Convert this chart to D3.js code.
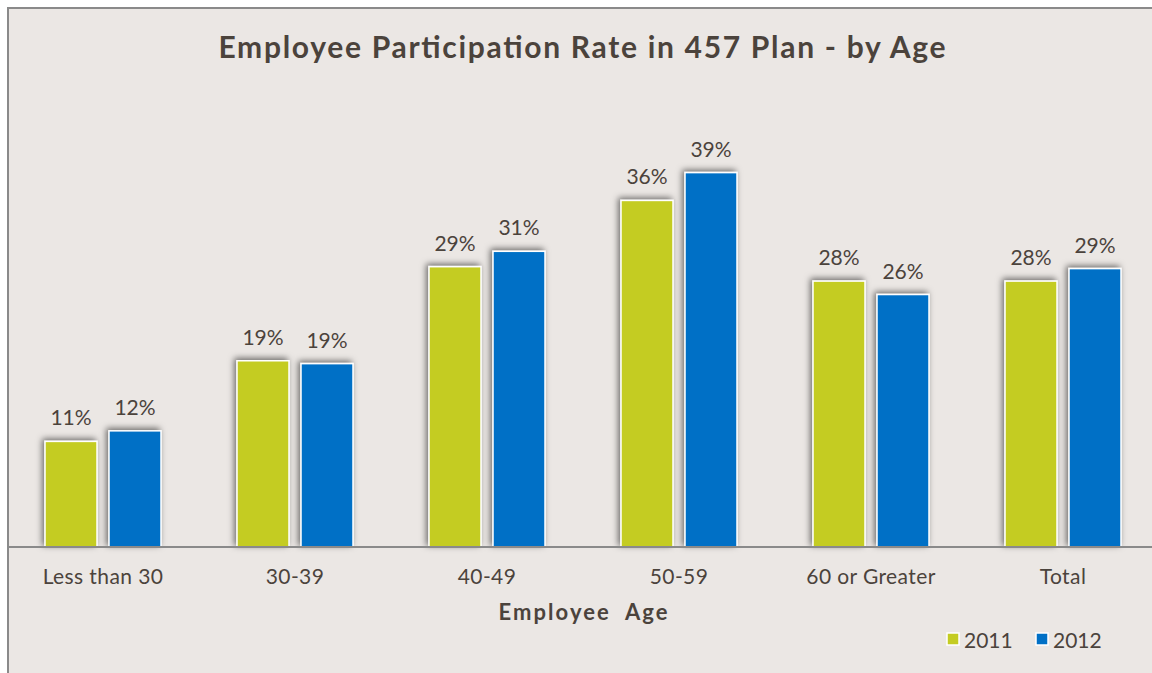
<!DOCTYPE html>
<html><head><meta charset="utf-8">
<script src="https://cdn.jsdelivr.net/npm/d3@7"></script>
<style>body{margin:0;background:#fff;}svg{display:block;}</style>
</head><body>
<svg id="c" width="1152" height="673"></svg>
<script>
const categories = ["Less than 30","30-39","40-49","50-59","60 or Greater","Total"];
const seriesNames = ["2011","2012"];
const values2011 = [11.0, 19.4, 29.2, 36.1, 27.7, 27.7];
const values2012 = [12.1, 19.1, 30.8, 39.0, 26.3, 29.0];
const labels2011 = ["11%","19%","29%","36%","28%","28%"];
const labels2012 = ["12%","19%","31%","39%","26%","29%"];
const colors = ["#c4cc22","#0070c6"];

const svg = d3.select("#c");
const textColor = "#4b433c";
const font = "'Gill Sans','Lato','Open Sans',sans-serif";

const defs = svg.append("defs");
const f = defs.append("filter").attr("id","sh").attr("x","-30%").attr("y","-30%").attr("width","160%").attr("height","160%");
f.append("feDropShadow").attr("dx",-2).attr("dy",-2).attr("stdDeviation",3).attr("flood-color","#000").attr("flood-opacity",0.55);

svg.append("rect").attr("x",8).attr("y",8).attr("width",1160).attr("height",690)
  .attr("fill","#ebe7e4").attr("stroke","#8a8a8a").attr("stroke-width",2);

const y = d3.scaleLinear().domain([0,45]).range([547, 547-45*9.6]);
const x0 = d3.scaleBand().domain(categories).range([7,1159]).padding(0);
const x1 = d3.scaleBand().domain(seriesNames).range([38,154]).paddingInner(12/64).paddingOuter(0);

const rows = categories.map((c,i)=>({c, v:[values2011[i],values2012[i]], l:[labels2011[i],labels2012[i]]}));

const g = svg.append("g");
rows.forEach(r=>{
  seriesNames.forEach((s,j)=>{
    const bx = x0(r.c)+x1(s);
    g.append("rect").attr("x",bx).attr("y",y(r.v[j])).attr("width",x1.bandwidth())
      .attr("height",y(0)-y(r.v[j])).attr("fill",colors[j]).attr("stroke","#fff").attr("stroke-width",1.5)
      .attr("filter","url(#sh)");
    g.append("text").attr("x",bx+x1.bandwidth()/2).attr("y",y(r.v[j])-16)
      .attr("text-anchor","middle").attr("fill",textColor).attr("font-family",font).attr("font-size",21)
      .text(r.l[j]);
  });
});

// baseline axis
const ax = svg.append("g").attr("transform",`translate(0,${y(0)})`)
  .call(d3.axisBottom(x0).tickSize(0).tickPadding(0));
ax.select(".domain").attr("d","M8,0H1152").attr("stroke","#8a8a8a").attr("stroke-width",2);
ax.selectAll("text").attr("fill",textColor).attr("font-family",font).attr("font-size",21)
  .attr("dy",null).attr("y",37).attr("letter-spacing",0.4);

svg.append("text").attr("x",582).attr("y",58).attr("text-anchor","middle").attr("fill",textColor)
  .attr("font-family",font).attr("font-weight","bold").attr("font-size",30)
  .attr("textLength",727).attr("lengthAdjust","spacing")
  .text("Employee Participation Rate in 457 Plan - by Age");
svg.append("text").attr("x",583).attr("y",620).attr("text-anchor","middle").attr("fill",textColor)
  .attr("font-family",font).attr("font-weight","bold").attr("font-size",22).attr("xml:space","preserve")
  .attr("textLength",169).attr("lengthAdjust","spacing")
  .text("Employee  Age");

// legend
const lg = svg.append("g");
const lx = [947, 1036];
seriesNames.forEach((s,j)=>{
  lg.append("rect").attr("x",lx[j]).attr("y",633).attr("width",12).attr("height",12)
    .attr("fill",colors[j]).attr("stroke","#fff").attr("stroke-width",1.5);
  lg.append("text").attr("x",lx[j]+17).attr("y",648).attr("fill",textColor).attr("font-family",font)
    .attr("font-size",21).text(s);
});
</script>
</body></html>
